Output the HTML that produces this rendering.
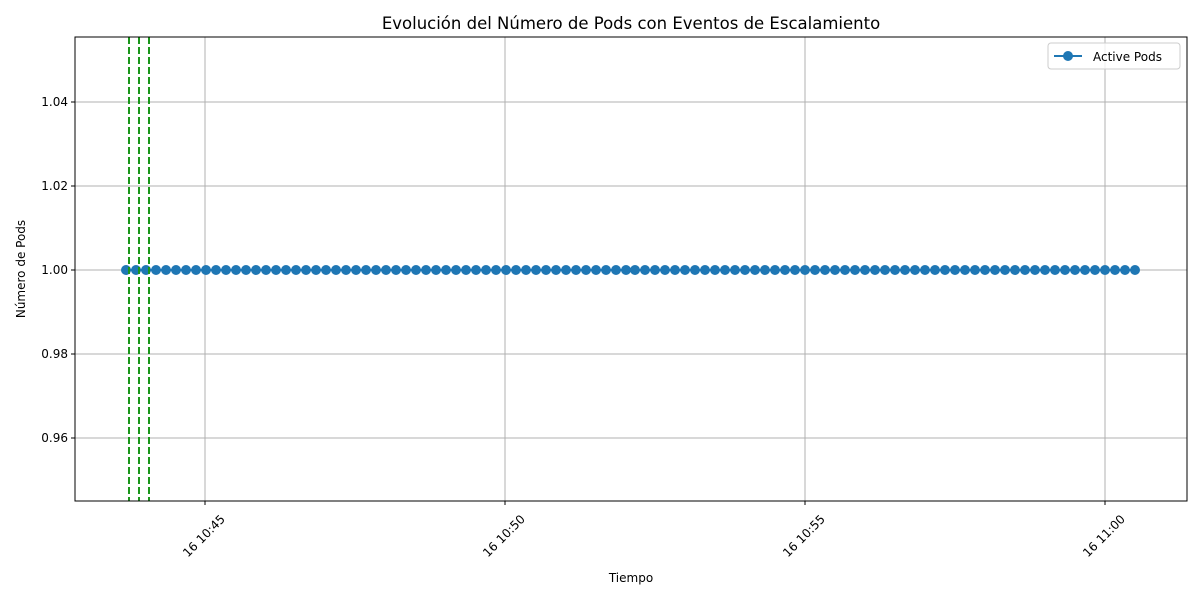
<!DOCTYPE html>
<html><head><meta charset="utf-8"><style>
body{margin:0;background:#fff;font-family:"DejaVu Sans","Liberation Sans",sans-serif}
</style></head><body>
<svg id="c" width="1200" height="600" xmlns="http://www.w3.org/2000/svg" font-family="DejaVu Sans, Liberation Sans, sans-serif">
<rect width="1200" height="600" fill="#fff"/>
<g id="grid"></g><g id="marks"></g><g id="axes"></g>
</svg>
<script>
// seconds offset relative to 10:45:00
const times=[-79,-69,-59,-49,-39,-29,-19,-9,1,11,21,31,41,51,61,71,81,91,101,111,121,131,141,151,161,171,181,191,201,211,221,231,241,251,261,271,281,291,301,311,321,331,341,351,361,371,381,391,401,411,421,
430,440,450,460,470,480,490,500,510,520,530,540,550,560,570,580,590,600,610,620,630,640,650,660,670,680,690,700,710,720,730,740,750,760,770,780,790,800,810,820,830,840,850,860,870,880,890,900,910,920,930];
const pods=[1,1,1,1,1,1,1,1,1,1,1,1,1,1,1,1,1,1,1,1,1,1,1,1,1,1,1,1,1,1,1,1,1,1,1,1,1,1,1,1,1,1,1,1,1,1,1,1,1,1,1,1,1,1,1,1,1,1,1,1,1,1,1,1,1,1,1,1,1,1,1,1,1,1,1,1,1,1,1,1,1,1,1,1,1,1,1,1,1,1,1,1,1,1,1,1,1,1,1,1,1,1];
const events=[-76,-66,-56];
const xTicks=[0,300,600,900];
const xTickLabels=["16 10:45","16 10:50","16 10:55","16 11:00"];
const yTicks=[0.96,0.98,1.00,1.02,1.04];
const yTickLabels=["0.96","0.98","1.00","1.02","1.04"];
const L=75,R=1187,T=37,B=501;
const X=t=>205+t*1.0;
const Y=v=>270-(v-1)*4200;
const NS="http://www.w3.org/2000/svg";
function mk(p,tag,a){const e=document.createElementNS(NS,tag);for(const k in a)e.setAttribute(k,a[k]);p.appendChild(e);return e;}
const g=document.getElementById('grid'),m=document.getElementById('marks'),ax=document.getElementById('axes');
xTicks.forEach((t,i)=>{
 const l=mk(g,'line',{x1:X(t),x2:X(t),y1:T,y2:B,stroke:'#b0b0b0','stroke-width':1});
 
 
 const k=mk(ax,'line',{x1:X(t),x2:X(t),y1:B,y2:B+4,stroke:'#000'});
 
 
 const cx=X(t)-1,cy=B+35;
 const tx=mk(ax,'text',{x:cx,y:cy+4,'font-size':12,'text-anchor':'middle',transform:`rotate(-45 ${cx} ${cy})`});
 tx.textContent=xTickLabels[i];
 
 
});
yTicks.forEach((v,i)=>{
 const l=mk(g,'line',{x1:L,x2:R,y1:Y(v),y2:Y(v),stroke:'#b0b0b0','stroke-width':1});
 
 
 const k=mk(ax,'line',{x1:L-4,x2:L,y1:Y(v),y2:Y(v),stroke:'#000'});
 
 
 const tx=mk(ax,'text',{x:L-7,y:Y(v)+4,'font-size':12,'text-anchor':'end'});
 tx.textContent=yTickLabels[i];
 
 
});
const line=mk(m,'polyline',{points:times.map((t,i)=>X(t)+','+Y(pods[i])).join(' '),fill:'none',stroke:'#1f77b4','stroke-width':2});


times.forEach((t,i)=>{
 const c=mk(m,'circle',{cx:X(t),cy:Y(pods[i]),r:5,fill:'#1f77b4'});
 
 
});
events.forEach(t=>{
 const l=mk(m,'line',{x1:X(t),x2:X(t),y1:T,y2:B,stroke:'#1a961a','stroke-width':2,'stroke-dasharray':'7,3'});
 
 
});
const fr=mk(ax,'rect',{x:L,y:T,width:R-L,height:B-T,fill:'none',stroke:'#000','stroke-width':1});


const ti=mk(ax,'text',{x:(L+R)/2,y:29,'font-size':16.5,'text-anchor':'middle'});ti.textContent='Evolución del Número de Pods con Eventos de Escalamiento';


const xt=mk(ax,'text',{x:(L+R)/2,y:582,'font-size':12,'text-anchor':'middle'});xt.textContent='Tiempo';


const yt=mk(ax,'text',{x:25,y:269,'font-size':12,'text-anchor':'middle',transform:'rotate(-90 25 269)'});yt.textContent='Número de Pods';


const lg=mk(ax,'g',{});


mk(lg,'rect',{x:1048,y:43,width:132,height:26,rx:3,fill:'#fff','fill-opacity':0.8,stroke:'#ccc'});
mk(lg,'line',{x1:1054,x2:1082,y1:56,y2:56,stroke:'#1f77b4','stroke-width':2});
mk(lg,'circle',{cx:1068,cy:56,r:5,fill:'#1f77b4'});
const lt=mk(lg,'text',{x:1093,y:61,'font-size':12});lt.textContent='Active Pods';


</script>
</body></html>
